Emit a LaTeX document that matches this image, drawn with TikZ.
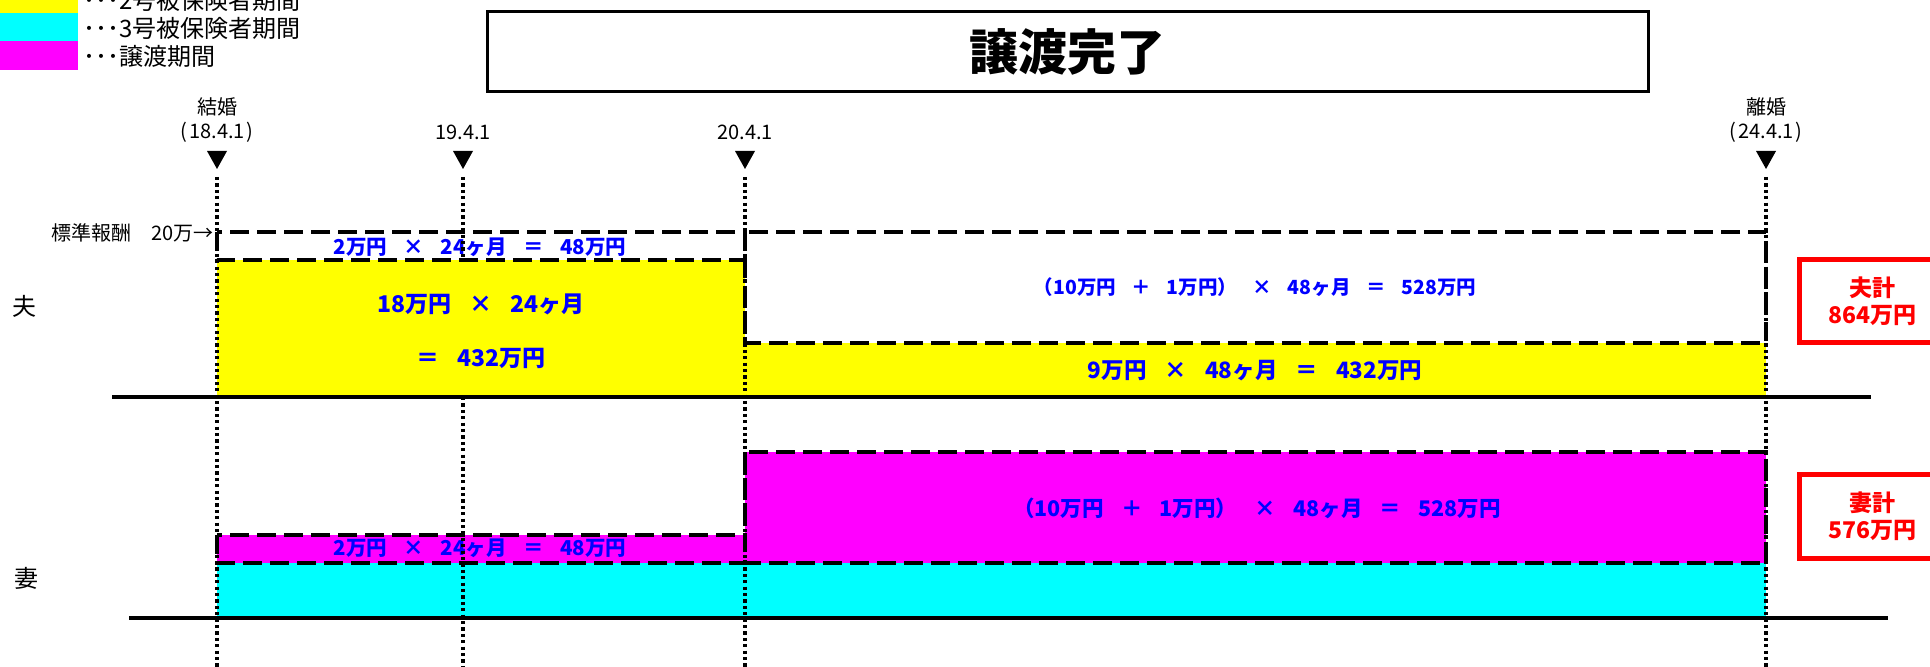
\documentclass[tikz,border=0pt]{standalone}
\usepackage{fontspec}
\setmainfont{Noto Sans CJK JP}
\definecolor{ylw}{RGB}{255,255,0}
\definecolor{cyn}{RGB}{0,255,255}
\definecolor{mag}{RGB}{255,0,255}
\definecolor{blu}{RGB}{0,0,255}
\definecolor{rd}{RGB}{255,0,0}
\newcommand{\jsp}{\hspace{0.8em}}
\begin{document}
\begin{tikzpicture}[x=0.5pt,y=-0.5pt,
  lbl/.style={inner sep=0pt, font=\fontsize{10pt}{12pt}\selectfont},
  leg/.style={inner sep=0pt, anchor=west, font=\fontsize{12pt}{14pt}\selectfont},
  who/.style={inner sep=0pt, font=\fontsize{12pt}{14pt}\selectfont},
  bt/.style={inner sep=0pt, text=blu, font=\bfseries\fontsize{#1}{#1}\selectfont},
  sumbox/.style={draw=rd, line width=2.5pt, text=rd, align=center, inner sep=0pt,
    minimum width=72.5pt, font=\bfseries\fontsize{11.5pt}{13.5pt}\selectfont},
  dbox/.style={line width=2pt, dash pattern=on 9.5pt off 4pt},
  dotl/.style={line width=1.7pt, dash pattern=on 1.6pt off 1.6pt},
  base/.style={line width=2pt}]
\useasboundingbox (0,0) rectangle (1930,667);
% legend
\fill[ylw] (0,-20) rectangle (78,13);
\fill[cyn] (0,13) rectangle (78,41);
\fill[mag] (0,41) rectangle (78,70);
\node[leg] (l2) at (83,0) {･･･2号被保険者期間};
\node[leg] (l3) at (83,28) {･･･3号被保険者期間};
\node[leg] (l4) at (83,56) {･･･譲渡期間};
% title
\node[draw, line width=1.5pt, minimum width=580.5pt, minimum height=40pt, inner sep=0pt,
  font=\bfseries\fontsize{24.5pt}{24.5pt}\selectfont] (title) at (1067.5,52) {譲渡完了};
% timeline labels
\node[lbl] (m1a) at (217,107) {結婚};
\node[lbl] (m1b) at (217,132) {(\kern1pt18.4.1\kern1pt)};
\node[lbl] (m2b) at (463,132) {19.4.1};
\node[lbl] (m3b) at (745,132) {20.4.1};
\node[lbl] (m4a) at (1766,107) {離婚};
\node[lbl] (m4b) at (1766,132) {(\kern1pt24.4.1\kern1pt)};
\fill (207,151) -- (227,151) -- (217,169) -- cycle;
\fill (453,151) -- (473,151) -- (463,169) -- cycle;
\fill (735,151) -- (755,151) -- (745,169) -- cycle;
\fill (1756,151) -- (1776,151) -- (1766,169) -- cycle;
% fills
\fill[ylw] (217,260) rectangle (745,397);
\fill[ylw] (745,343) rectangle (1766,397);
\fill[mag] (217,535) rectangle (745,563);
\fill[mag] (745,452) rectangle (1766,563);
\fill[cyn] (217,563) rectangle (1766,618);
% dashed borders
\draw[dbox] (217,232) rectangle (745,260);
\draw[dbox] (745,232) rectangle (1766,343);
\draw[dbox] (217,535) rectangle (745,563);
\draw[dbox] (745,452) rectangle (1766,563);
% baselines
\draw[base] (112,397) -- (1871,397);
\draw[base] (129,618) -- (1888,618);
% labels
\node[lbl, anchor=east] (std) at (214,233) {標準報酬　20万→};
\node[who] (hus) at (24,306) {夫};
\node[who] (wif) at (26,578) {妻};
% blue texts
\node[bt=10.25pt] (t1) at (480,247) {2万円\jsp ×\jsp 24ヶ月\jsp ＝\jsp 48万円};
\node[bt=11.5pt] (t2) at (481,304) {18万円\jsp ×\jsp 24ヶ月};
\node[bt=11.5pt] (t3) at (481,358) {＝\jsp 432万円};
\node[bt=9.75pt] (t4) at (1255,287) {（10万円\jsp ＋\jsp 1万円）\jsp ×\jsp 48ヶ月\jsp ＝\jsp 528万円};
\node[bt=11.25pt] (t5) at (1255,371) {9万円\jsp ×\jsp 48ヶ月\jsp ＝\jsp 432万円};
\node[bt=10.75pt] (t6) at (1257,508) {（10万円\jsp ＋\jsp 1万円）\jsp ×\jsp 48ヶ月\jsp ＝\jsp 528万円};
\node[bt=10.25pt] (t7) at (480,548) {2万円\jsp ×\jsp 24ヶ月\jsp ＝\jsp 48万円};
% sums
\node[sumbox, minimum height=41.5pt] (hsum) at (1872,301.5) {夫計\\864万円};
\node[sumbox, minimum height=42pt] (wsum) at (1872,516) {妻計\\576万円};
% dotted verticals
\draw[dotl] (217,177) -- (217,670);
\draw[dotl] (463,177) -- (463,260);
\draw[dotl] (463,397) -- (463,670);
\draw[dotl] (745,177) -- (745,670);
\draw[dotl] (1766,177) -- (1766,670);
\end{tikzpicture}
\end{document}
